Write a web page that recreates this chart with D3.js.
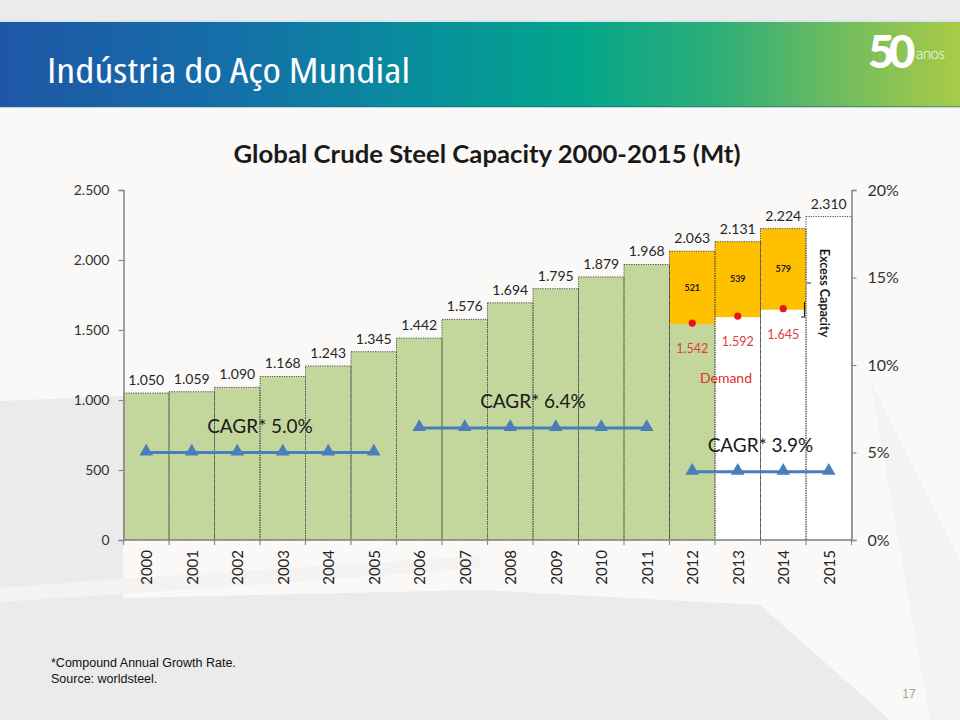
<!DOCTYPE html>
<html><head><meta charset="utf-8">
<script src="https://cdn.jsdelivr.net/npm/d3@7"></script>
<style>body{margin:0;background:#ececec}svg{display:block}</style>
</head><body>
<svg id="chart" width="960" height="720"></svg>
<script>
// ---------------- DATA ----------------
const years = ["2000","2001","2002","2003","2004","2005","2006","2007","2008","2009","2010","2011","2012","2013","2014","2015"];
const capacity = [1050,1059,1090,1168,1243,1345,1442,1576,1694,1795,1879,1968,2063,2131,2224,2310];
const demandYears = ["2012","2013","2014"];
const demand = [1542,1592,1645];
const excess = [521,539,579];
const cagrRates = [5.0,6.4,3.9];
const cagrFrom = ["2000","2006","2012"];
const cagrTo = ["2005","2011","2015"];
const cagrLabels = ["CAGR* 5.0%","CAGR* 6.4%","CAGR* 3.9%"];
const leftTicks = [0,500,1000,1500,2000,2500];
const rightTicks = [0,5,10,15,20];

// ---------------- SETUP ----------------
const svg = d3.select("#chart");
const defs = svg.append("defs");
const fmt = d3.formatLocale({decimal:",",thousands:".",grouping:[3],currency:["",""]}).format(",");

// ---------------- SCALES ----------------
const x = d3.scaleBand().domain(years).range([123.5,851.5]).padding(0);
const y = d3.scaleLinear().domain([0,2500]).range([540,190]);
const yR = d3.scaleLinear().domain([0,20]).range([540,190]);
const cx = d => x(d) + x.bandwidth()/2;

// background
svg.append("rect").attr("width",960).attr("height",720).attr("fill","#ebebeb");
svg.append("path").attr("fill","#faf9f7")
  .attr("d","M0,107 L960,107 L960,720 L890,720 L760,605 L480,590 L123,598 L123,396 L0,401 Z");
svg.append("path").attr("fill","#f3f3f3")
  .attr("d","M870,380 L960,560 L960,720 L930,720 Z");
svg.append("path").attr("fill","#f4f3f1")
  .attr("d","M0,588 C150,575 330,566 480,556 L480,568 C330,580 150,592 0,602 Z");

// header
const hg = defs.append("linearGradient").attr("id","hg").attr("x1",0).attr("x2",1).attr("y1",0).attr("y2",0);
[[0,"#1f56a6"],[0.25,"#1470a8"],[0.45,"#07909b"],[0.6,"#03a58b"],[0.75,"#2fae77"],[0.9,"#7cbf59"],[1,"#a9cb47"]]
  .forEach(([o,c])=>hg.append("stop").attr("offset",o).attr("stop-color",c));
svg.append("rect").attr("x",0).attr("y",20).attr("width",960).attr("height",2).attr("fill","#d8e6ea");
svg.append("rect").attr("x",0).attr("y",22).attr("width",960).attr("height",85).attr("fill","url(#hg)");
svg.append("rect").attr("x",0).attr("y",106).attr("width",960).attr("height",1.5).attr("fill","#0d6d80").attr("opacity",0.5);
svg.append("text").attr("x",47).attr("y",83).attr("fill","#fff")
  .attr("font-family","'Open Sans'").attr("font-stretch","75%").attr("font-weight",500).attr("font-size",34)
  .attr("textLength",363).attr("lengthAdjust","spacingAndGlyphs")
  .text("Indústria do Aço Mundial");
svg.append("text").attr("x",868).attr("y",68).attr("fill","#fff")
  .attr("font-family","Lato").attr("font-weight",900).attr("font-size",46)
  .attr("letter-spacing",-6).text("50");
svg.append("text").attr("x",916).attr("y",59).attr("fill","#fff")
  .attr("font-family","Lato").attr("font-weight",300).attr("font-size",15)
  .attr("letter-spacing",-0.5).text("anos");

// title
svg.append("text").attr("x",487).attr("y",163).attr("text-anchor","middle")
  .attr("font-family","Lato").attr("font-weight","bold").attr("font-size",24).attr("fill","#1a1a1a")
  .attr("textLength",507).attr("lengthAdjust","spacingAndGlyphs")
  .text("Global Crude Steel Capacity 2000-2015 (Mt)");

// ---------------- BARS ----------------
const g = svg.append("g");
years.forEach((yr,i)=>{
  const di = demandYears.indexOf(yr);
  const lowerTop = di>=0 ? demand[di] : capacity[i];
  const lowerColor = (+yr<=2012) ? "#c3d69b" : "#ffffff";
  g.append("rect").attr("x",x(yr)).attr("width",x.bandwidth())
    .attr("y",y(lowerTop)).attr("height",y(0)-y(lowerTop)).attr("fill",lowerColor);
  if(di>=0){
    g.append("rect").attr("x",x(yr)).attr("width",x.bandwidth())
      .attr("y",y(capacity[i])).attr("height",y(demand[di])-y(capacity[i])).attr("fill","#ffc000");
  }
});
g.selectAll("rect.outline").data(years).join("rect").attr("class","outline")
  .attr("x",d=>x(d)).attr("width",x.bandwidth())
  .attr("y",(d,i)=>y(capacity[i])).attr("height",(d,i)=>y(0)-y(capacity[i]))
  .attr("fill","none").attr("stroke","#4d4d4d").attr("stroke-width",1).attr("stroke-dasharray","1.2,1.2");

g.selectAll("text.val").data(years).join("text").attr("class","val")
  .attr("x",d=>cx(d)).attr("y",(d,i)=>y(capacity[i])-8).attr("text-anchor","middle")
  .attr("font-family","Lato").attr("font-size",14).attr("fill","#262626")
  .text((d,i)=>fmt(capacity[i]));

g.selectAll("text.exc").data(demandYears).join("text").attr("class","exc")
  .attr("x",d=>cx(d)).attr("y",(d,i)=>(y(capacity[years.indexOf(d)])+y(demand[i]))/2+3)
  .attr("text-anchor","middle").attr("font-family","Lato").attr("font-weight","bold")
  .attr("font-size",9).attr("fill","#222").text((d,i)=>excess[i]);

g.selectAll("circle.dem").data(demandYears).join("circle").attr("class","dem")
  .attr("cx",d=>cx(d)).attr("cy",(d,i)=>y(demand[i])-1).attr("r",3.6).attr("fill","#e8141b");
g.selectAll("text.dem").data(demandYears).join("text").attr("class","dem")
  .attr("x",d=>cx(d)).attr("y",(d,i)=>y(demand[i])+29).attr("text-anchor","middle")
  .attr("font-family","Lato").attr("font-size",12.5).attr("fill","#e0403a")
  .text((d,i)=>fmt(demand[i]));
svg.append("text").attr("x",x("2013")+11).attr("y",y(demand[1])+66).attr("text-anchor","middle")
  .attr("font-family","Lato").attr("font-size",14).attr("fill","#e0302a").text("Demand");

const ex = cx("2015")-4, ey = 293;
svg.append("text").attr("transform",`translate(${ex},${ey}) rotate(90)`)
  .attr("text-anchor","middle").attr("dominant-baseline","central")
  .attr("font-family","Lato").attr("font-weight","bold").attr("font-size",12.5).attr("fill","#1a1a1a")
  .text("Excess Capacity");
svg.append("path").attr("d",`M${x("2015")+1},283 H${x("2015")+5} M${x("2015")-5},317 H${x("2015")-1.5} V302`)
  .attr("fill","none").attr("stroke","#222").attr("stroke-width",1.2);

// ---------------- AXES ----------------
const axL = svg.append("g").attr("transform","translate(123.5,0)")
  .call(d3.axisLeft(y).tickValues(leftTicks).tickSize(5).tickPadding(9).tickFormat(fmt));
const axR = svg.append("g").attr("transform","translate(851.5,0)")
  .call(d3.axisRight(yR).tickValues(rightTicks).tickSize(5).tickPadding(11).tickFormat(d=>d+"%"));
[axL,axR].forEach(a=>{
  a.select(".domain").attr("stroke","#8a8a8a").attr("stroke-width",1.6);
  a.selectAll(".tick line").attr("stroke","#8a8a8a").attr("stroke-width",1.2);
});
axL.selectAll("text").attr("font-family","Lato").attr("font-size",14).attr("fill","#333");
axR.selectAll("text").attr("font-family","Lato").attr("font-size",16).attr("fill","#333");

const xEdges = years.map(d=>x(d)).concat([x.range()[1]]);
svg.append("line").attr("x1",x.range()[0]).attr("x2",x.range()[1]).attr("y1",y(0)).attr("y2",y(0))
  .attr("stroke","#8a8a8a").attr("stroke-width",1.6);
svg.selectAll("line.bt").data(xEdges).join("line").attr("class","bt")
  .attr("x1",d=>d).attr("x2",d=>d).attr("y1",y(0)).attr("y2",y(0)+5)
  .attr("stroke","#8a8a8a").attr("stroke-width",1.2);
svg.selectAll("text.yr").data(years).join("text").attr("class","yr")
  .attr("transform",d=>`translate(${cx(d)},550) rotate(-90)`)
  .attr("text-anchor","end").attr("dominant-baseline","central")
  .attr("font-family","Lato").attr("font-size",15).attr("fill","#222").text(d=>d);

// ---------------- CAGR LINES ----------------
cagrRates.forEach((r,k)=>{
  const yrs = years.slice(years.indexOf(cagrFrom[k]), years.indexOf(cagrTo[k])+1);
  const yy = yR(r);
  svg.append("path").attr("d",d3.line().x(d=>cx(d)).y(()=>yy)(yrs))
    .attr("fill","none").attr("stroke","#4a7ebb").attr("stroke-width",3);
  svg.selectAll(null).data(yrs).join("path")
    .attr("transform",d=>`translate(${cx(d)},${yy-1})`)
    .attr("d",d3.symbol(d3.symbolTriangle,80)).attr("fill","#4a7ebb");
  svg.append("text").attr("x",(cx(yrs[0])+cx(yrs[yrs.length-1]))/2).attr("y",yy-20)
    .attr("text-anchor","middle").attr("font-family","Lato").attr("font-size",19).attr("fill","#1a1a1a")
    .text(cagrLabels[k]);
});

// ---------------- FOOTNOTES ----------------
svg.append("text").attr("x",51).attr("y",667).attr("font-family","Liberation Sans").attr("font-size",12.5)
  .attr("fill","#111").text("*Compound Annual Growth Rate.");
svg.append("text").attr("x",51).attr("y",683).attr("font-family","Liberation Sans").attr("font-size",12.5)
  .attr("fill","#111").text("Source: worldsteel.");
svg.append("text").attr("x",909).attr("y",698).attr("text-anchor","middle").attr("font-family","Liberation Sans")
  .attr("font-size",12).attr("fill","#9a9a9a").text("17");
</script>
</body></html>
